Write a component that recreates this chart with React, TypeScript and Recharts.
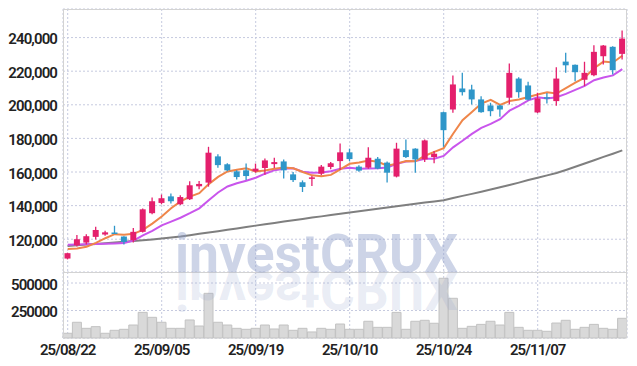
import React from 'react';
import { ComposedChart, Bar, Line, XAxis, YAxis, CartesianGrid } from 'recharts';

const dates = [
  '25/08/22', '25/08/25', '25/08/26', '25/08/27', '25/08/28', '25/08/29',
  '25/09/01', '25/09/02', '25/09/03', '25/09/04', '25/09/05',
  '25/09/08', '25/09/09', '25/09/10', '25/09/11', '25/09/12',
  '25/09/15', '25/09/16', '25/09/17', '25/09/18', '25/09/19',
  '25/09/22', '25/09/23', '25/09/24', '25/09/25', '25/09/26',
  '25/09/29', '25/09/30', '25/10/01', '25/10/02', '25/10/10',
  '25/10/13', '25/10/14', '25/10/15', '25/10/16', '25/10/17',
  '25/10/20', '25/10/21', '25/10/22', '25/10/23', '25/10/24',
  '25/10/27', '25/10/28', '25/10/29', '25/10/30', '25/10/31',
  '25/11/03', '25/11/04', '25/11/05', '25/11/06', '25/11/07',
  '25/11/10', '25/11/11', '25/11/12', '25/11/13', '25/11/14',
  '25/11/17', '25/11/18', '25/11/19', '25/11/20',
];

const opens = [
  108500, 116400, 118000, 121400, 122800, 124000, 121600, 119400, 124400, 135500,
  141600, 145500, 140800, 143800, 151500, 153700, 169300, 164600, 160400, 161000,
  160400, 162400, 164700, 166300, 158600, 153900, 156000, 159000, 163000, 166500,
  171700, 163200, 162600, 167900, 165600, 157300, 173000, 173900, 167500, 168900,
  195600, 197200, 209700, 209100, 203200, 199600, 199600, 204200, 215600, 211500,
  195450, 204500, 202200, 225700, 223800, 214900, 217600, 228900, 234500, 230300,
];
const highs = [
  112000, 122500, 123000, 127500, 125000, 128000, 121800, 126700, 138300, 144800,
  146600, 147200, 146100, 154500, 154700, 175000, 170500, 165200, 161000, 165000,
  165000, 168000, 168500, 167500, 160000, 155000, 157600, 164200, 165900, 177000,
  173900, 164000, 174800, 168900, 166200, 177400, 179400, 174200, 179400, 172500,
  196000, 217400, 219000, 211900, 205100, 201200, 200000, 224600, 216400, 213700,
  207150, 207000, 222400, 230900, 224000, 225600, 235400, 235600, 234800, 244200,
];
const lows = [
  108000, 115700, 116900, 119800, 122000, 123300, 116900, 118000, 124000, 134900,
  140800, 141200, 140400, 143400, 149700, 151300, 162600, 160400, 155600, 155200,
  159600, 158400, 162400, 156200, 154000, 148100, 151700, 158000, 161600, 161200,
  166500, 160200, 162000, 161600, 153700, 156800, 168300, 159600, 165900, 165200,
  175000, 195300, 205500, 200200, 195300, 193200, 192900, 200200, 204200, 202600,
  195000, 200800, 199400, 219000, 214000, 211100, 217000, 224000, 218000, 226900,
];
const closes = [
  111700, 120000, 121800, 125500, 124100, 123400, 118400, 124400, 137800, 142600,
  144400, 142600, 145100, 152100, 152900, 171500, 164100, 161000, 157000, 157600,
  162000, 166900, 165900, 161000, 155200, 151100, 156800, 163200, 165200, 171700,
  167700, 160800, 168500, 162000, 159600, 173900, 168900, 167500, 178800, 170900,
  184900, 212100, 207500, 203200, 195600, 196200, 197200, 219000, 207500, 203000,
  203800, 203600, 215600, 223500, 219400, 219000, 231500, 235250, 220600, 239400,
];

const ma5 = [
  114200, 114500, 115500, 117800, 120600, 123000, 122700, 123200, 125600, 129300,
  133500, 138400, 142500, 145400, 147400, 152800, 157100, 160300, 161300, 162200,
  160300, 160900, 161900, 162700, 162200, 160000, 158000, 157500, 158300, 161600,
  164900, 165700, 166800, 166100, 163700, 165000, 166600, 166400, 169700, 172000,
  174200, 182800, 190800, 195700, 200700, 202900, 199900, 202200, 203100, 204600,
  206100, 207400, 206700, 209900, 213200, 216200, 221800, 225700, 225200, 229200,
];
const ma10 = [
  116700, 116800, 117000, 117200, 117300, 117500, 117700, 119200, 122300, 125000,
  128300, 130500, 132800, 135500, 138400, 143200, 147800, 151400, 153300, 154800,
  156600, 159000, 161100, 162000, 162200, 160200, 159500, 159700, 160500, 161900,
  162500, 161900, 162100, 162200, 162700, 164900, 166200, 166600, 167900, 167900,
  169600, 174700, 178600, 182700, 186300, 188600, 191400, 196500, 199400, 202600,
  204500, 203700, 204500, 206500, 208900, 211200, 214600, 216200, 217500, 221200,
];
const ma60 = [
  116000, 116400, 116800, 117200, 117600, 118000, 118500, 118900, 119400, 119900,
  120500, 121000, 121600, 122400, 123200, 124000, 124800, 125600, 126400, 127300,
  128100, 128900, 129700, 130500, 131300, 132100, 132900, 133600, 134400, 135100,
  135900, 136600, 137400, 138100, 138900, 139600, 140400, 141100, 141800, 142500,
  143200, 144500, 145800, 147000, 148300, 149600, 150900, 152300, 153700, 155200,
  156600, 158000, 159400, 161200, 163100, 165100, 167000, 169000, 170900, 172900,
];

const volumes = [
  43000, 143000, 88000, 103000, 43000, 70000, 79000, 118000, 233000, 188000,
  143000, 88000, 88000, 164000, 109000, 406000, 143000, 118000, 88000, 79000,
  88000, 118000, 82000, 118000, 70000, 88000, 55000, 88000, 79000, 127000,
  79000, 79000, 152000, 97000, 97000, 233000, 79000, 152000, 161000, 134000,
  543000, 361000, 88000, 106000, 124000, 152000, 118000, 233000, 97000, 70000,
  70000, 61000, 136000, 161000, 79000, 97000, 124000, 88000, 79000, 179000,
];

const priceTicks = [120000, 140000, 160000, 180000, 200000, 220000, 240000];
const volumeTicks = [250000, 500000];

const rows = dates.map((date, i) => ({
  date,
  open: opens[i],
  high: highs[i],
  low: lows[i],
  close: closes[i],
  ma5: ma5[i],
  ma10: ma10[i],
  ma60: ma60[i],
  volume: volumes[i],
}));

const UP = '#e41f6c';
const DOWN = '#2e96c9';
const GRID = '#c6cadf';
const FRAME = '#d3d3d3';
const FONT = 'Roboto, "Liberation Sans", sans-serif';

const Candle = (props: any) => {
  const { x, y, width, height, payload } = props;
  if (!payload) return null;
  const { open, close, high, low } = payload;
  const top = Math.min(y, y + height);
  const h = Math.abs(height);
  const range = high - low || 1;
  const toY = (v: number) => top + ((high - v) / range) * h;
  const color = close >= open ? UP : DOWN;
  const cx = x + width / 2;
  const bTop = toY(Math.max(open, close));
  const bBot = toY(Math.min(open, close));
  const bw = 6;
  return (
    <g>
      <line x1={cx} x2={cx} y1={top} y2={top + h} stroke={color} strokeWidth={1.3} />
      <rect x={cx - bw / 2} y={bTop} width={bw} height={Math.max(1.5, bBot - bTop)} fill={color} />
    </g>
  );
};

const YTick = (props: any) => {
  const { x, y, payload, fmt } = props;
  return (
    <text
      x={x}
      y={y}
      dy={6.5}
      textAnchor="end"
      fontFamily={FONT}
      fontSize={15}
      fontWeight={600}
      letterSpacing={-0.9}
      fill="#222"
    >
      {fmt ? Number(payload.value).toLocaleString('en-US') : String(payload.value)}
    </text>
  );
};

const XTick = (props: any) => {
  const { x, y, payload } = props;
  return (
    <text
      x={x}
      y={y}
      dy={10.7}
      textAnchor="middle"
      fontFamily={FONT}
      fontSize={15}
      fontWeight={600}
      letterSpacing={-0.9}
      fill="#222"
    >
      {payload.value}
    </text>
  );
};

export default function App() {
  return (
    <div style={{ position: 'absolute', left: 0, top: 0, width: 637, height: 366, background: '#fff' }}>
      <div style={{ position: 'absolute', left: 0, top: 0 }}>
        <ComposedChart
          width={637}
          height={272}
          data={rows}
          margin={{ top: 9, right: 10, bottom: 0, left: 0 }}
          barCategoryGap={0}
        >
          <CartesianGrid stroke={GRID} strokeDasharray="2 2" />
          <XAxis dataKey="date" hide interval={9} />
          <YAxis
            domain={[100500, 257000]}
            ticks={priceTicks}
            width={63}
            axisLine={false}
            tickLine={false}
            tickSize={4}
            tick={<YTick fmt />}
          />
          <Line dataKey="ma60" stroke="#7f7f7f" strokeWidth={2} dot={false} isAnimationActive={false} />
          <Line dataKey="ma10" stroke="#c955ec" strokeWidth={2} dot={false} isAnimationActive={false} />
          <Line dataKey="ma5" stroke="#ef864a" strokeWidth={2} dot={false} isAnimationActive={false} />
          <Bar
            dataKey={(d: any) => [d.low, d.high]}
            shape={<Candle />}
            zIndex={500}
            isAnimationActive={false}
          />
        </ComposedChart>
      </div>
      <div style={{ position: 'absolute', left: 0, top: 272 }}>
        <ComposedChart
          width={637}
          height={94}
          data={rows}
          margin={{ top: 0, right: 10, bottom: 0, left: 0 }}
          barCategoryGap={0}
        >
          <CartesianGrid stroke={GRID} strokeDasharray="2 2" />
          <XAxis
            dataKey="date"
            interval={9}
            height={28}
            axisLine={false}
            tickLine={false}
            tickSize={4}
            tick={<XTick />}
          />
          <YAxis
            domain={[0, 600000]}
            ticks={volumeTicks}
            width={63}
            axisLine={false}
            tickLine={false}
            tickSize={4}
            tick={<YTick />}
          />
          <Bar dataKey="volume" fill="#d9d9d9" stroke="#c2c2c2" strokeWidth={1} isAnimationActive={false} />
        </ComposedChart>
      </div>
      <svg
        width={637}
        height={366}
        style={{ position: 'absolute', left: 0, top: 0, pointerEvents: 'none' }}
      >
        <line x1={63.5} x2={63.5} y1={9} y2={338} stroke={FRAME} />
        <line x1={626.5} x2={626.5} y1={9} y2={338} stroke={FRAME} />
        <line x1={63} x2={627} y1={9.5} y2={9.5} stroke={FRAME} />
        <line x1={63} x2={627} y1={272.5} y2={272.5} stroke={FRAME} />
        <text
          x={175}
          y={272}
          fontFamily={FONT}
          fontWeight={700}
          fontSize={54}
          textLength={283}
          lengthAdjust="spacingAndGlyphs"
          fill="rgba(145,160,202,0.45)"
        >
          investCRUX
        </text>
        <g transform="translate(0,544) scale(1,-1)">
          <text
            x={175}
            y={272}
            fontFamily={FONT}
            fontWeight={700}
            fontSize={54}
            textLength={283}
            lengthAdjust="spacingAndGlyphs"
            fill="rgba(145,160,202,0.2)"
          >
            investCRUX
          </text>
        </g>
      </svg>
    </div>
  );
}
